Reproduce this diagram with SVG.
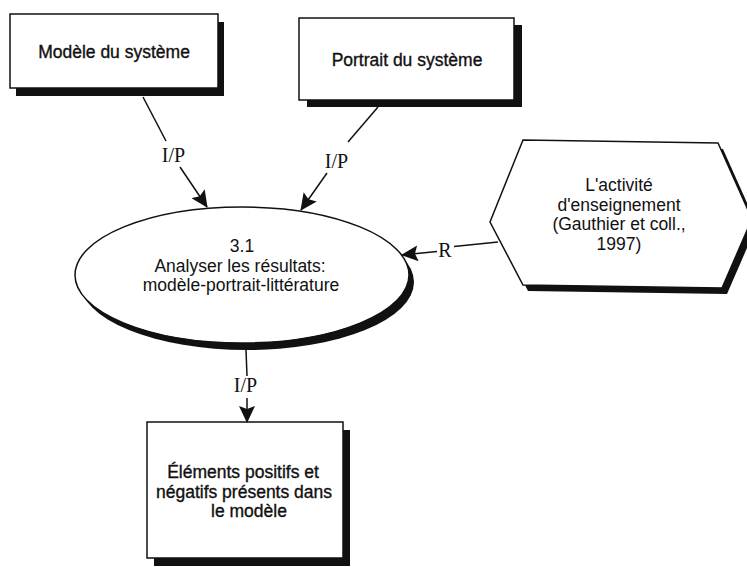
<svg xmlns="http://www.w3.org/2000/svg" width="747" height="567" viewBox="0 0 747 567">
<defs>
<style>
.box{fill:#fff;stroke:#111;stroke-width:1.5}
.sh{fill:#111}
.t{font-family:"Liberation Sans",Arial,sans-serif;font-size:17.5px;fill:#111;text-anchor:middle}
.bt{stroke:#111;stroke-width:0.35}
.lbl{font-family:"Liberation Serif","Times New Roman",serif;font-size:20px;fill:#111;text-anchor:middle}
.con{stroke:#111;stroke-width:1.5;fill:none}
</style>
<marker id="ah" viewBox="0 0 17 16" refX="16" refY="8" markerWidth="17" markerHeight="16" markerUnits="userSpaceOnUse" orient="auto">
<path d="M0,0 L17,8 L0,16 L3,8 Z" fill="#111"/>
</marker>
</defs>
<rect width="747" height="567" fill="#fff"/>

<g id="modele">
<rect class="sh" x="16" y="22" width="208" height="74"/>
<rect class="box" x="10" y="14" width="208" height="74"/>
<text class="t bt" x="114" y="58">Modèle du système</text>
</g>

<g id="portrait">
<rect class="sh" x="307" y="25" width="215" height="82"/>
<rect class="box" x="299" y="18" width="215" height="82"/>
<text class="t bt" x="407" y="66">Portrait du système</text>
</g>

<g id="processus">
<ellipse class="sh" cx="247" cy="282" rx="167" ry="68"/>
<ellipse class="box" cx="242" cy="275" rx="167" ry="68"/>
<text class="t" x="242" y="252">3.1</text>
<text class="t" x="240" y="271.5">Analyser les résultats:</text>
<text class="t" x="241" y="291">modèle-portrait-littérature</text>
</g>

<g id="activite">
<polygon class="sh" points="528,146 723,149 757,225 727,294 528,291 495,227"/>
<polygon class="box" points="523,140 718,143 752,219 722,288 523,285 490,222"/>
<text class="t" x="619" y="191">L'activité</text>
<text class="t" x="619" y="210.5">d'enseignement</text>
<text class="t" x="619" y="230">(Gauthier et coll.,</text>
<text class="t" x="619" y="249.5">1997)</text>
</g>

<g id="elements">
<rect class="sh" x="154" y="430" width="196" height="136"/>
<rect class="box" x="147" y="422" width="196" height="136"/>
<text class="t bt" x="243" y="478">Éléments positifs et</text>
<text class="t bt" x="244" y="497.5">négatifs présents dans</text>
<text class="t bt" x="249" y="517">le modèle</text>
</g>

<g id="connecteurs">
<line class="con" x1="143" y1="97" x2="166" y2="141"/>
<line class="con" x1="180" y1="167" x2="207" y2="207" marker-end="url(#ah)"/>
<text class="lbl" x="173.5" y="162">I/P</text>
<line class="con" x1="378" y1="107" x2="348" y2="142"/>
<line class="con" x1="327" y1="173" x2="301" y2="210" marker-end="url(#ah)"/>
<text class="lbl" x="336.5" y="168">I/P</text>
<line class="con" x1="498" y1="242" x2="454" y2="246.5"/>
<line class="con" x1="437" y1="251.5" x2="402" y2="255" marker-end="url(#ah)"/>
<text class="lbl" x="445" y="256.5">R</text>
<line class="con" x1="246" y1="350" x2="247" y2="376"/>
<line class="con" x1="247" y1="398" x2="247" y2="422" marker-end="url(#ah)"/>
<text class="lbl" x="245.5" y="392">I/P</text>
</g>
</svg>
